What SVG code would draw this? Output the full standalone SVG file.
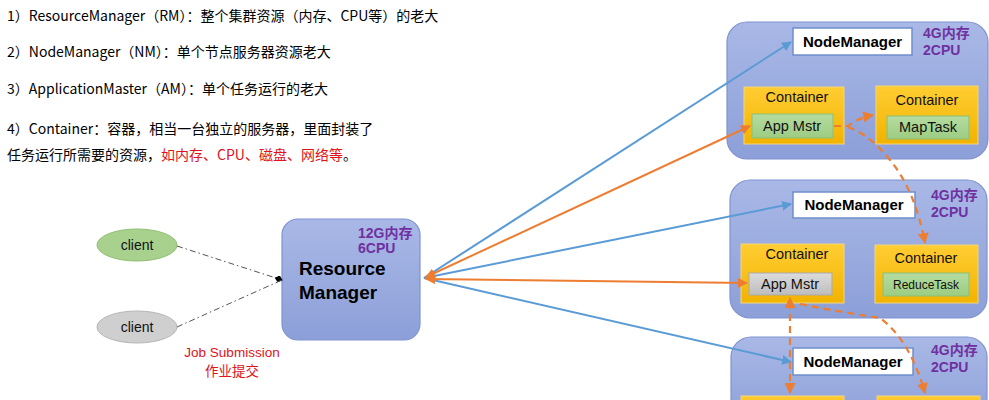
<svg xmlns="http://www.w3.org/2000/svg" width="989" height="400" viewBox="0 0 989 400">
<defs>
<linearGradient id="gNode" x1="0" y1="0" x2="0" y2="1"><stop offset="0" stop-color="#a9b8e6"/><stop offset="1" stop-color="#8c9fd8"/></linearGradient>
<linearGradient id="gCont" x1="0" y1="0" x2="0" y2="1"><stop offset="0" stop-color="#ffcd33"/><stop offset="1" stop-color="#f2b300"/></linearGradient>
<linearGradient id="gGreen" x1="0" y1="0" x2="0" y2="1"><stop offset="0" stop-color="#b5dca0"/><stop offset="1" stop-color="#9ccc82"/></linearGradient>
<linearGradient id="gGray" x1="0" y1="0" x2="0" y2="1"><stop offset="0" stop-color="#dcdcdc"/><stop offset="1" stop-color="#bdbdbd"/></linearGradient>
<marker id="aBlue" viewBox="0 0 10 10" refX="9" refY="5" markerWidth="5" markerHeight="5" orient="auto-start-reverse"><path d="M0,0 L10,5 L0,10 z" fill="#5b9bd5"/></marker>
<marker id="aOrange" viewBox="0 0 10 10" refX="9" refY="5" markerWidth="5" markerHeight="5" orient="auto-start-reverse"><path d="M0,0 L10,5 L0,10 z" fill="#ed7d31"/></marker>
<marker id="aDiamond" viewBox="0 0 12 10" refX="11" refY="5" markerWidth="9" markerHeight="7" orient="auto"><path d="M0,5 L6,0 L12,5 L6,10 z" fill="#000"/></marker>
</defs>
<style>
.txt{font-family:"Noto Sans CJK SC","Microsoft YaHei",sans-serif;font-size:14px;fill:#000}
.red{fill:#e0121a}
.node{fill:url(#gNode);stroke:#7f93cf;stroke-width:1.2}
.nm{fill:#fff;stroke:#6e8fcc;stroke-width:1.5}
.nmt{font-family:"Liberation Sans",Arial,sans-serif;font-weight:bold;font-size:15px;fill:#000;text-anchor:middle}
.res{font-family:"Liberation Sans","Noto Sans CJK SC",sans-serif;font-weight:bold;font-size:14px;fill:#7030a0}
.cont{fill:url(#gCont);stroke:#f6d57a;stroke-width:1}
.ct{font-family:"Liberation Sans",Arial,sans-serif;font-size:14.5px;fill:#111;text-anchor:middle}
.green{fill:url(#gGreen);stroke:#8cbf74;stroke-width:1}
.gray{fill:url(#gGray);stroke:#aaa;stroke-width:1}
.it{font-family:"Liberation Sans",Arial,sans-serif;font-size:14.5px;fill:#111;text-anchor:middle}
.blue{stroke:#5b9bd5;stroke-width:2;fill:none;marker-end:url(#aBlue)}
.orng{stroke:#ed7d31;stroke-width:2;fill:none;marker-end:url(#aOrange);marker-start:url(#aOrange)}
.dash{stroke:#ed7d31;stroke-width:2.2;fill:none;stroke-dasharray:7,5}
.dd{stroke:#555;stroke-width:1;fill:none;stroke-dasharray:6,3,1.5,3}
.js{font-family:"Liberation Sans","Noto Sans CJK SC",sans-serif;font-size:13.5px;fill:#e0121a;text-anchor:middle}
</style>

<g id="notes">
<text class="txt" x="7" y="21">1）ResourceManager（RM）：整个集群资源（内存、CPU等）的老大</text>
<text class="txt" x="7" y="57">2）NodeManager（NM）：单个节点服务器资源老大</text>
<text class="txt" x="7" y="94">3）ApplicationMaster（AM）：单个任务运行的老大</text>
<text class="txt" x="7" y="134">4）Container：容器，相当一台独立的服务器，里面封装了</text>
<text class="txt" x="7" y="160">任务运行所需要的资源，<tspan class="red">如内存、CPU、磁盘、网络等</tspan>。</text>
</g>

<g id="node1">
<rect class="node" x="727" y="22" width="261" height="137" rx="20"/>
<rect class="nm" x="793" y="28" width="119" height="27"/>
<text class="nmt" x="852.5" y="47">NodeManager</text>
<text class="res" x="923" y="38">4G内存</text>
<text class="res" x="923" y="55">2CPU</text>
<g id="n1c1">
<rect class="cont" x="744" y="87" width="100" height="57"/>
<text class="ct" x="797" y="102">Container</text>
<rect class="green" x="752" y="114" width="81" height="24"/>
<text class="it" x="792" y="131">App Mstr</text>
</g>
<g id="n1c2">
<rect class="cont" x="876" y="86" width="102" height="58"/>
<text class="ct" x="927" y="105">Container</text>
<rect class="green" x="887" y="116" width="82" height="23"/>
<text class="it" x="928" y="132">MapTask</text>
</g>
</g>

<g id="node2">
<rect class="node" x="730" y="180" width="257" height="138" rx="20"/>
<rect class="nm" x="793" y="192" width="122" height="26"/>
<text class="nmt" x="854" y="210">NodeManager</text>
<text class="res" x="931" y="200">4G内存</text>
<text class="res" x="931" y="217">2CPU</text>
<g id="n2c1">
<rect class="cont" x="741" y="244" width="103" height="59"/>
<text class="ct" x="797" y="259">Container</text>
<rect class="gray" x="749" y="273" width="83" height="22"/>
<text class="it" x="790" y="289">App Mstr</text>
</g>
<g id="n2c2">
<rect class="cont" x="875" y="245" width="103" height="58"/>
<text class="ct" x="926" y="263">Container</text>
<rect class="green" x="883" y="273" width="86" height="23"/>
<text class="it" x="926" y="289" style="font-size:12px">ReduceTask</text>
</g>
</g>

<g id="node3">
<rect class="node" x="731" y="337" width="256" height="90" rx="20"/>
<rect class="nm" x="793" y="348" width="120" height="27"/>
<text class="nmt" x="853" y="367">NodeManager</text>
<text class="res" x="931" y="355">4G内存</text>
<text class="res" x="931" y="372">2CPU</text>
<rect class="cont" x="741" y="396" width="103" height="20"/>
<rect class="cont" x="877" y="396" width="103" height="20"/>
</g>

<g id="rm">
<rect class="node" x="282" y="219" width="138" height="121" rx="16"/>
<text class="res" x="358" y="238">12G内存</text>
<text class="res" x="358" y="253">6CPU</text>
<text x="299" y="275" style="font-family:'Liberation Sans',Arial,sans-serif;font-weight:bold;font-size:19px;fill:#000">Resource</text>
<text x="299" y="299" style="font-family:'Liberation Sans',Arial,sans-serif;font-weight:bold;font-size:19px;fill:#000">Manager</text>
</g>

<g id="client1">
<ellipse cx="137" cy="245" rx="40" ry="16" fill="#a9d18e" stroke="#8fbf72" stroke-width="1"/>
<text x="137" y="250" style="font-family:'Liberation Sans',Arial,sans-serif;font-size:14px;fill:#111;text-anchor:middle">client</text>
</g>
<g id="client2">
<ellipse cx="137" cy="327" rx="40" ry="16" fill="#cfcfcf" stroke="#b5b5b5" stroke-width="1"/>
<text x="137" y="332" style="font-family:'Liberation Sans',Arial,sans-serif;font-size:14px;fill:#111;text-anchor:middle">client</text>
</g>

<g id="jobsub">
<text class="js" x="232" y="357">Job Submission</text>
<text class="js" x="232" y="376">作业提交</text>
</g>

<g id="connectors">
<path class="dd" d="M177,246 L282,280" marker-end="url(#aDiamond)"/>
<path class="dd" d="M177,327 L282,280"/>
<path class="blue" d="M424,278 L791,42"/>
<path class="blue" d="M424,278 L791,204"/>
<path class="blue" d="M424,278 L791,362"/>
<path class="orng" d="M426,277 L750,126"/>
<path class="orng" d="M426,279 L747,283"/>
<path class="dash" d="M834,126 L848,126 Q858,118 873,115" marker-end="url(#aOrange)"/>
<path class="dash" d="M848,127 Q870,135 890,160 Q915,190 925,243" marker-end="url(#aOrange)"/>
<path class="dash" d="M790,393 L790,298" marker-end="url(#aOrange)" marker-start="url(#aOrange)"/>
<path class="dash" d="M800,304 Q840,312 880,318 Q910,340 925,393" marker-end="url(#aOrange)"/>
</g>
</svg>
